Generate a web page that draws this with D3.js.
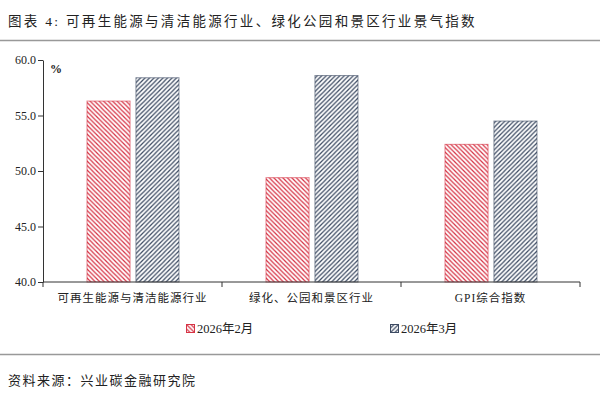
<!DOCTYPE html>
<html>
<head>
<meta charset="utf-8">
<script src="https://cdn.jsdelivr.net/npm/d3@7"></script>
<style>
  body { margin: 0; background: #fff; }
  svg text { font-family: "Liberation Serif", "Noto Sans CJK SC", serif; }
</style>
</head>
<body>
<div id="chart"></div>
<script>
const categories = ["可再生能源与清洁能源行业", "绿化、公园和景区行业", "GPI综合指数"];
const seriesNames = ["2026年2月", "2026年3月"];
const feb = [56.3, 49.4, 52.4];
const mar = [58.4, 58.6, 54.5];
const yTicks = [40, 45, 50, 55, 60];

const w = 600, h = 397;
const padL = 43, padR = 580, padT = 60, padB = 282;
const colors = ["#d63345", "#3c4a62"];
const tile = 4.5;

const svg = d3.select("#chart").append("svg")
  .attr("width", w).attr("height", h);

// hatch patterns
const defs = svg.append("defs");
const pRed = defs.append("pattern").attr("id", "hatch0")
  .attr("patternUnits", "userSpaceOnUse").attr("width", tile).attr("height", tile);
pRed.append("rect").attr("width", tile).attr("height", tile).attr("fill", "#fff");
pRed.append("path").attr("d", `M-1,-1 L${tile+1},${tile+1} M-1,${tile-1} L1,${tile+1} M${tile-1},-1 L${tile+1},1`)
  .attr("stroke", colors[0]).attr("stroke-width", 1.25);
const pBlue = defs.append("pattern").attr("id", "hatch1")
  .attr("patternUnits", "userSpaceOnUse").attr("width", tile).attr("height", tile);
pBlue.append("rect").attr("width", tile).attr("height", tile).attr("fill", "#fff");
pBlue.append("path").attr("d", `M-1,${tile+1} L${tile+1},-1 M-1,1 L1,-1 M${tile-1},${tile+1} L${tile+1},${tile-1}`)
  .attr("stroke", colors[1]).attr("stroke-width", 1.25);

// title + rules
svg.append("text").attr("x", 8).attr("y", 26)
  .attr("font-size", 13.5).attr("letter-spacing", 2.3).attr("fill", "#222")
  .text("图表 4:  可再生能源与清洁能源行业、绿化公园和景区行业景气指数");
svg.append("line").attr("x1", 0).attr("x2", w).attr("y1", 40.5).attr("y2", 40.5)
  .attr("stroke", "#999").attr("stroke-width", 1.5);
svg.append("line").attr("x1", 0).attr("x2", w).attr("y1", 354.5).attr("y2", 354.5)
  .attr("stroke", "#999").attr("stroke-width", 1.5);
svg.append("text").attr("x", 8).attr("y", 385)
  .attr("font-size", 13).attr("letter-spacing", 1.5).attr("fill", "#222")
  .text("资料来源：兴业碳金融研究院");

const x0 = d3.scaleBand().domain(categories).range([padL, padR]);
const x1 = d3.scaleBand().domain([0, 1]).range([x0.bandwidth() / 2 - 46, x0.bandwidth() / 2 + 46]).paddingInner(0.12);
const y = d3.scaleLinear().domain([40, 60]).range([padB, padT]);

const data = [feb, mar];
const groups = svg.selectAll("g.grp").data(categories).enter().append("g")
  .attr("class", "grp")
  .attr("transform", d => "translate(" + x0(d) + ",0)");
groups.selectAll("rect").data((d, i) => data.map((s, k) => ({ k: k, v: s[i] })))
  .enter().append("rect")
  .attr("x", d => x1(d.k) + 0.5)
  .attr("y", d => y(d.v))
  .attr("width", x1.bandwidth())
  .attr("height", d => padB - y(d.v))
  .attr("fill", d => "url(#hatch" + d.k + ")")
  .attr("stroke", d => colors[d.k])
  .attr("stroke-opacity", 0.6)
  .attr("stroke-width", 1);

// axes
const yAxis = svg.append("g").attr("transform", "translate(" + padL + ",0)")
  .call(d3.axisLeft(y).tickValues(yTicks).tickFormat(d3.format(".1f")).tickSize(5).tickSizeOuter(0));
yAxis.selectAll("text").attr("font-size", 12).attr("fill", "#222").attr("dx", "1");
yAxis.selectAll("line, path").attr("stroke", "#333");

const xAxis = svg.append("g").attr("transform", "translate(0," + padB + ")");
xAxis.append("line").attr("x1", padL).attr("x2", padR).attr("stroke", "#333");
xAxis.selectAll("line.tk").data(categories.concat(["end"])).enter().append("line")
  .attr("class", "tk")
  .attr("x1", (d, i) => i < categories.length ? x0(d) : padR)
  .attr("x2", (d, i) => i < categories.length ? x0(d) : padR)
  .attr("y1", 0).attr("y2", 5).attr("stroke", "#333");
xAxis.selectAll("text").data(categories).enter().append("text")
  .attr("x", d => x0(d) + x0.bandwidth() / 2)
  .attr("y", 20).attr("text-anchor", "middle")
  .attr("font-size", 11.5).attr("letter-spacing", 1).attr("fill", "#222")
  .text(d => d);

svg.append("text").attr("x", 50).attr("y", 73).attr("font-size", 12)
  .attr("font-weight", "bold").attr("fill", "#222").text("%");

// legend
const legX = [186, 390];
const leg = svg.selectAll("g.leg").data(seriesNames).enter().append("g")
  .attr("class", "leg")
  .attr("transform", (d, i) => "translate(" + legX[i] + ",324)");
leg.append("rect").attr("x", 0.5).attr("y", 0.5).attr("width", 8).attr("height", 8)
  .attr("fill", (d, i) => "url(#hatch" + i + ")")
  .attr("stroke", (d, i) => colors[i]).attr("stroke-width", 1);
leg.append("text").attr("x", 11).attr("y", 9).attr("font-size", 12.5)
  .attr("fill", "#222").text(d => d);
</script>
</body>
</html>
